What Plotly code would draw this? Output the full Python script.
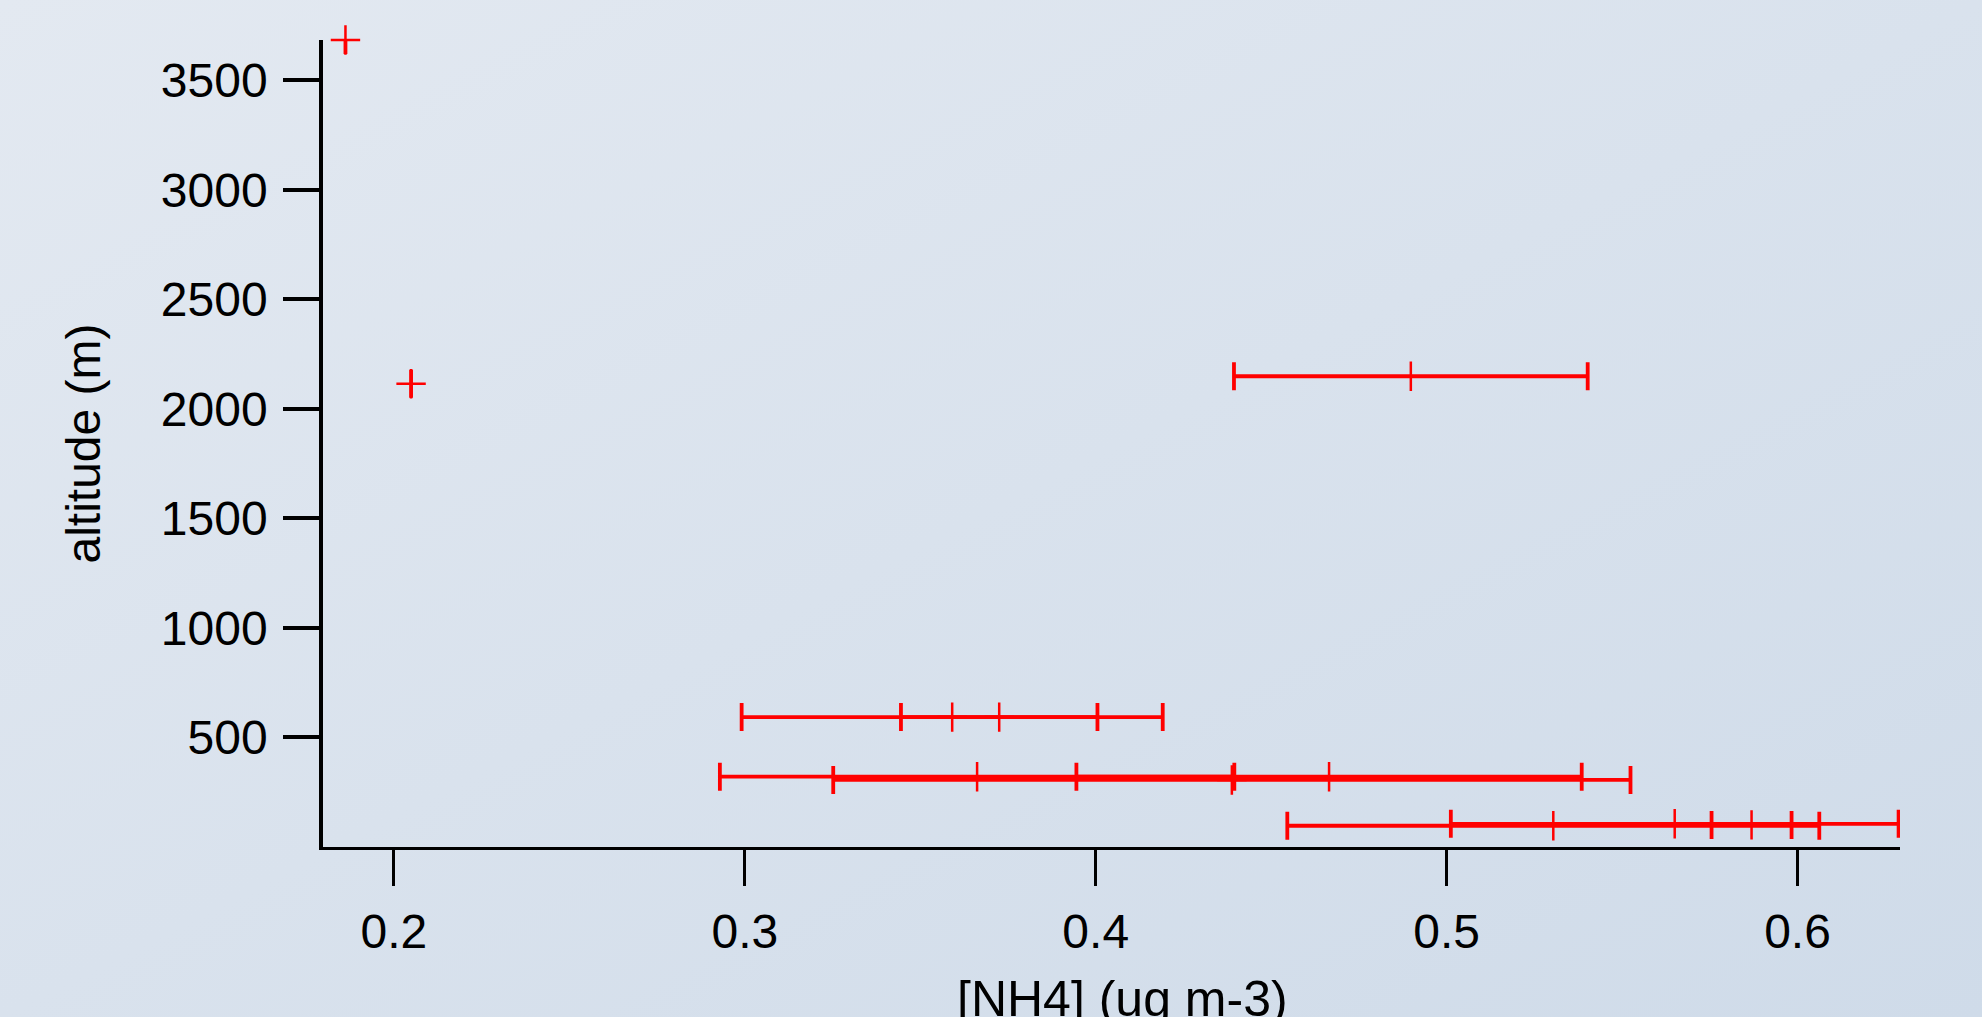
import plotly.graph_objects as go
from urllib.parse import quote

# Data
nh4 = [0.1862, 0.2049, 0.4898, 0.3591, 0.3725, 0.3662, 0.4665, 0.4388, 0.5304, 0.5650, 0.5869]
altitude = [3684, 2115, 2149, 593, 593, 321, 321, 306, 97, 106, 101]
nh4_err = [0.0, 0.0, 0.0504, 0.0600, 0.0280, 0.0733, 0.0720, 0.1136, 0.0758, 0.0638, 0.0114]

x_ticks = [0.2, 0.3, 0.4, 0.5, 0.6]
y_ticks = [500, 1000, 1500, 2000, 2500, 3000, 3500]

x_title = "[NH4] (ug m-3)"
y_title = "altitude (m)"

FONT = "Liberation Sans, Arial, sans-serif"

svg = (
    '<svg xmlns="http://www.w3.org/2000/svg" width="100" height="100" preserveAspectRatio="none">'
    '<defs><linearGradient id="g" x1="0" y1="0" x2="1" y2="1">'
    '<stop offset="0" stop-color="#e3e9f1"/><stop offset="1" stop-color="#cfdbe9"/>'
    '</linearGradient></defs><rect width="100" height="100" fill="url(#g)"/></svg>'
)
bg_src = "data:image/svg+xml;utf8," + quote(svg)

fig = go.Figure()
fig.add_trace(go.Scatter(
    x=nh4, y=altitude, mode="markers",
    marker=dict(symbol="cross-thin", size=21, color="#ff0000",
                line=dict(color="#ff0000", width=2.5)),
    error_x=dict(type="data", array=nh4_err, visible=True,
                 color="#ff0000", thickness=3.8, width=14),
    showlegend=False, cliponaxis=False,
))

fig.update_layout(
    width=1982, height=1017,
    margin=dict(l=323, r=82, t=40, b=170, autoexpand=False),
    paper_bgcolor="#d9e2ec",
    plot_bgcolor="rgba(0,0,0,0)",
    images=[dict(source=bg_src, xref="paper", yref="paper", x=-323/1577, y=1+40/807,
                 sizex=1982/1577, sizey=1017/807, sizing="stretch",
                 xanchor="left", yanchor="top", layer="below")],
    font=dict(family=FONT, size=48, color="black"),
    xaxis=dict(
        range=[0.1798, 0.6292], tickvals=x_ticks, ticktext=[f"{v:.1f}" for v in x_ticks],
        showgrid=False, zeroline=False, showline=True, linecolor="black", linewidth=3,
        ticks="outside", ticklen=36, tickwidth=2.5, tickcolor="black",
        tickfont=dict(family=FONT, size=48), ticklabelstandoff=4, automargin=False,
    ),
    yaxis=dict(
        range=[0, 3684], tickvals=y_ticks, ticktext=[str(v) for v in y_ticks],
        showgrid=False, zeroline=False, showline=True, linecolor="black", linewidth=3.5,
        ticks="outside", ticklen=36, tickwidth=3.5, tickcolor="black",
        tickfont=dict(family=FONT, size=48), ticklabelstandoff=6, automargin=False,
        title=dict(text=y_title, font=dict(family=FONT, size=48), standoff=46),
    ),
    annotations=[dict(text=x_title, xref="paper", yref="paper", x=0.507, y=-0.1883,
                      xanchor="center", yanchor="middle", showarrow=False,
                      font=dict(family=FONT, size=50, color="black"))],
)

fig.write_html("out.html")
